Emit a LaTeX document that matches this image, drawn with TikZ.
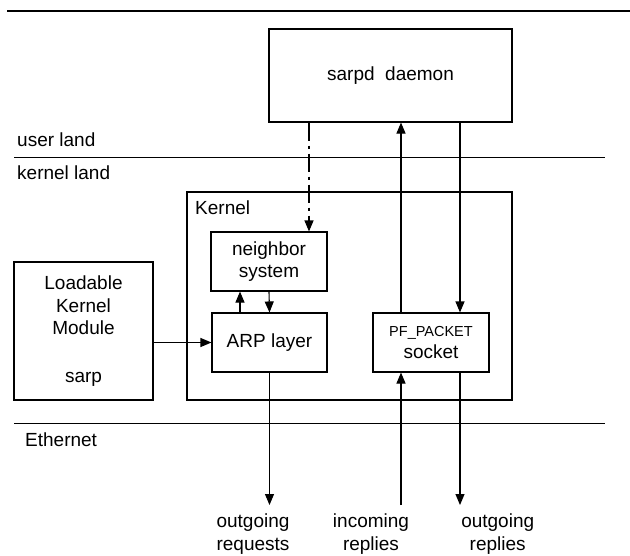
\documentclass[tikz,border=0pt]{standalone}
\usepackage{fontspec}
\setmainfont{Liberation Sans}
\usetikzlibrary{arrows.meta, positioning}

\begin{document}
\begin{tikzpicture}[
    x=1pt, y=-1pt,
    box/.style={rectangle, draw, line width=1.1pt, inner sep=0pt, align=center, font=\fontsize{19}{22.7}\selectfont},
    label/.style={inner sep=0pt, font=\fontsize{19}{22.7}\selectfont},
    arrow/.style={-{Triangle[length=11pt, width=9pt]}, line width=1.1pt},
    dashdot/.style={dash pattern=on 18pt off 5pt on 3pt off 5pt},
    rule/.style={line width=1.1pt}
]
\useasboundingbox (0,0) rectangle (630,555);

% Layer lines
\draw[line width=2.2pt] (7,11) -- (630,11);
\draw[rule] (14,157.5) -- (605,157.5);
\draw[rule] (14,423.3) -- (605,423.3);

% Layer labels
\node[label, anchor=base west] (user) at (17,146) {user land};
\node[label, anchor=base west] (kland) at (17,179.3) {kernel land};
\node[label, anchor=base west] (ether) at (25,446.7) {Ethernet};

% Boxes
\node[box, minimum width=243, minimum height=93] (sarpd) at (390.5,75.5) {sarpd\ \ daemon};
\node[box, minimum width=325, minimum height=208] (kernel) at (349.5,296) {};
\node[label, anchor=base west] (kname) at (195,214.3) {Kernel};
\node[box, minimum width=116, minimum height=59] (neigh) at (269,261.5) {neighbor\\system};
\node[box, minimum width=115, minimum height=59] (arp) at (269.5,342.5) {ARP layer};
\node[box, minimum width=116, minimum height=59] (pf) at (431,342.5) {{\fontsize{14.5}{22.7}\selectfont PF\_PACKET}\\socket};
\node[box, minimum width=139, minimum height=138] (lkm) at (83.5,331) {Loadable\\Kernel\\Module\\[25pt]sarp};

% Columns and free ends
\coordinate (cdash) at (309,0);
\coordinate (cup) at (240,0);
\coordinate (cin) at (401,0);
\coordinate (cout) at (460,0);
\coordinate (req) at (269.5,505);
\coordinate (inc) at (401,505);
\coordinate (rep) at (460,505);

% Connections
\draw[arrow, dashdot] (sarpd.south -| cdash) -- (neigh.north -| cdash);
\draw[arrow] (arp.north -| cup) -- (neigh.south -| cup);
\draw[arrow] (neigh.south) -- (arp.north);
\draw[arrow] (lkm.east |- arp) -- (arp.west);
\draw[arrow] (pf.north -| cin) -- (sarpd.south -| cin);
\draw[arrow] (sarpd.south -| cout) -- (pf.north -| cout);
\draw[arrow] (arp.south) -- (req);
\draw[arrow] (inc) -- (pf.south -| cin);
\draw[arrow] (pf.south -| cout) -- (rep);

% Traffic labels
\node[label, align=center] (lreq) at (253,534) {outgoing\\requests};
\node[label, align=center] (linc) at (371,534) {incoming\\replies};
\node[label, align=center] (lrep) at (497.7,534) {outgoing\\replies};

\end{tikzpicture}
\end{document}
